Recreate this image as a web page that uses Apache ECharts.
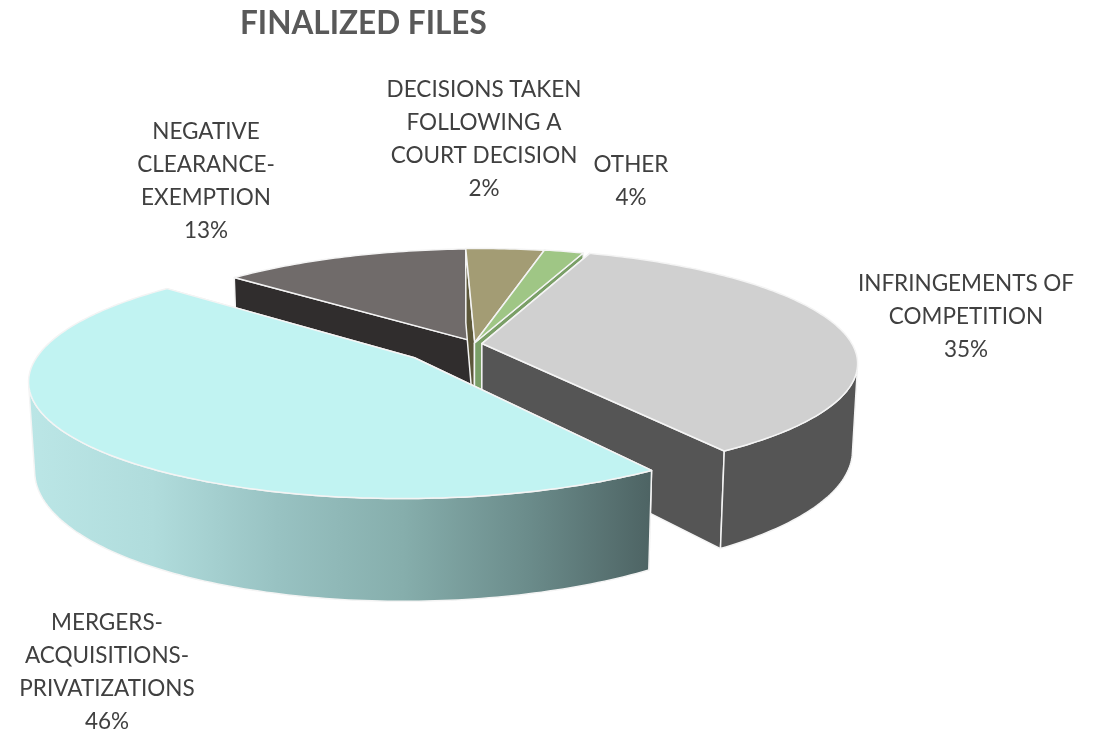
<!DOCTYPE html>
<html>
<head>
<meta charset="utf-8">
<title>Finalized files</title>
<script src="https://cdn.jsdelivr.net/npm/echarts@6/dist/echarts.min.js"></script>
<style>
  html, body { margin: 0; padding: 0; background: #fff; }
  #main { width: 1107px; height: 732px; }
</style>
</head>
<body>
<div id="main"></div>
<script>
// slices in clockwise order, starting from firstAngle
const categories = [
  'INFRINGEMENTS OF\nCOMPETITION',
  'MERGERS-\nACQUISITIONS-\nPRIVATIZATIONS',
  'NEGATIVE\nCLEARANCE-\nEXEMPTION',
  'DECISIONS TAKEN\nFOLLOWING A\nCOURT DECISION',
  'OTHER'
]
// wedge sizes as they are drawn in the picture
const sliceShares = [35, 46, 13, 4, 2]
// percentages as they are printed on the labels
const labelPercents = ['35%', '46%', '13%', '2%', '4%']

const firstAngle = 20
const topColors = ['#d0d0d0', '#c1f3f2', '#706b6a', '#a39c74', '#9fc685']
const wallColors = ['#555555', '#8fb8b8', '#302d2d', '#5c5739', '#7a9f67']
const labelCenters = [[966, 317], [107, 672], [206, 181], [484, 139], [631, 181]]
// slice pull-out in world units [sideways, towards viewer]
const pullOut = [[0.024, 0.005], [-0.155, 0.13], [0.03, 0.01], [0.005, 0.005], [0.004, 0]]
// back slices first
const paintOrder = [2, 3, 4, 0, 1]

// camera
const cx = 473, cy = 343
const radius = 1, thick = 0.245
const dist = 5.6, focal = 2070
const pitch = 17.5 * Math.PI / 180

function project(x, y, z) {
  const d = dist - (y * Math.cos(pitch) + z * Math.sin(pitch))
  return [cx + focal * x / d, cy + focal * (y * Math.sin(pitch) - z * Math.cos(pitch)) / d]
}

function rim(i, deg, z) {
  const a = deg * Math.PI / 180
  return project(pullOut[i][0] + radius * Math.sin(a), pullOut[i][1] - radius * Math.cos(a), z)
}

function tip(i, z) {
  return project(pullOut[i][0], pullOut[i][1], z)
}

let acc = firstAngle
const sliceAngles = sliceShares.map(v => {
  const from = acc
  acc += v * 3.6
  return [from, acc]
})

const mergersWall = new echarts.graphic.LinearGradient(0, 0, 1, 0, [
  { offset: 0, color: '#bbe6e6' },
  { offset: 0.2, color: '#b0dcdc' },
  { offset: 0.4, color: '#98c2c2' },
  { offset: 0.6, color: '#86aeac' },
  { offset: 0.8, color: '#6b8c8b' },
  { offset: 1, color: '#4d6363' }
])

function renderSlice(params, api) {
  const i = api.value(0)
  const from = api.value(1)
  const to = api.value(2)
  const edge = { stroke: '#f4f4f4', lineWidth: 1.5, lineJoin: 'round' }
  const poly = (points, fill) => ({
    type: 'polygon',
    shape: { points },
    style: Object.assign({ fill }, edge)
  })

  const degs = []
  for (let deg = from; deg < to; deg += 1) degs.push(deg)
  degs.push(to)
  const topArc = degs.map(d => rim(i, d, 0))
  const bottomArc = degs.map(d => rim(i, d, -thick))

  // only the part of the outer wall that faces the camera
  const frontTop = []
  const frontBottom = []
  for (let k = 0; k < degs.length - 1; k++) {
    const ax = topArc[k + 1][0] - topArc[k][0]
    const ay = topArc[k + 1][1] - topArc[k][1]
    const bx = bottomArc[k][0] - topArc[k][0]
    const by = bottomArc[k][1] - topArc[k][1]
    if (ax * by - ay * bx < 0) {
      if (!frontTop.length) {
        frontTop.push(topArc[k])
        frontBottom.push(bottomArc[k])
      }
      frontTop.push(topArc[k + 1])
      frontBottom.push(bottomArc[k + 1])
    }
  }

  const last = degs.length - 1
  const cutA = [tip(i, 0), topArc[0], bottomArc[0], tip(i, -thick)]
  const cutB = [tip(i, 0), topArc[last], bottomArc[last], tip(i, -thick)]
  const face = [tip(i, 0)].concat(topArc)

  const children = [poly(cutA, wallColors[i]), poly(cutB, wallColors[i])]
  if (frontTop.length) {
    const wallFill = i === 1 ? mergersWall : wallColors[i]
    children.push(poly(frontTop.concat(frontBottom.reverse()), wallFill))
  }
  children.push(poly(face, topColors[i]))
  return { type: 'group', children }
}

const chart = echarts.init(document.getElementById('main'), null, { renderer: 'canvas' })
chart.setOption({
  animation: false,
  title: {
    text: 'FINALIZED FILES',
    left: 235,
    top: 3,
    textStyle: { fontFamily: 'Lato', fontSize: 31.5, fontWeight: 'bold', color: '#595959' }
  },
  graphic: categories.map((name, i) => ({
    type: 'text',
    x: labelCenters[i][0],
    y: labelCenters[i][1],
    style: {
      text: name + '\n' + labelPercents[i],
      fontFamily: 'Lato',
      fontSize: 22.5,
      lineHeight: 33,
      fill: '#404040',
      align: 'center',
      verticalAlign: 'middle'
    }
  })),
  series: [{
    type: 'custom',
    coordinateSystem: 'none',
    renderItem: renderSlice,
    silent: true,
    data: paintOrder.map(i => [i, sliceAngles[i][0], sliceAngles[i][1]])
  }]
})
</script>
</body>
</html>
